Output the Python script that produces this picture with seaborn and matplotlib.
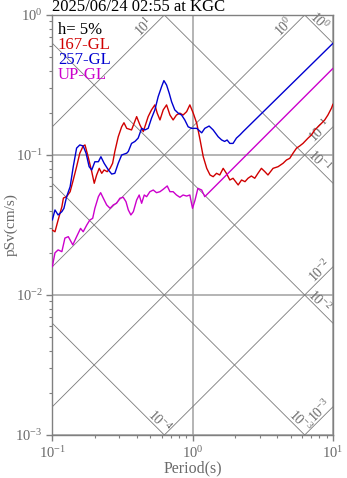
import numpy as np
import pandas as pd
import matplotlib
matplotlib.use("Agg")
import matplotlib.pyplot as plt
import seaborn as sns

# ---- data -------------------------------------------------------------
title = "2025/06/24 02:55 at KGC"
damping_label = "h= 5%"
components = ["167-GL", "257-GL", "UP-GL"]
colors = ["#d00000", "#0000d0", "#cc00cc"]

period_167 = [0.100, 0.1045, 0.110, 0.117, 0.120, 0.1265, 0.134, 0.141, 0.149, 0.157,
              0.166, 0.171, 0.180, 0.191, 0.199, 0.207, 0.216, 0.225, 0.234, 0.246,
              0.258, 0.269, 0.279, 0.295, 0.312, 0.324, 0.339, 0.367, 0.399, 0.421,
              0.445, 0.482, 0.509, 0.538, 0.559, 0.585, 0.617, 0.652, 0.689, 0.726,
              0.767, 0.811, 0.855, 0.906, 0.955, 1.01, 1.07, 1.13, 1.19, 1.26,
              1.33, 1.40, 1.48, 1.56, 1.65, 1.74, 1.84, 1.94, 2.11, 2.23,
              2.36, 2.48, 2.62, 2.77, 2.92, 3.09, 3.27, 3.44, 3.74, 4.06,
              4.41, 4.66, 4.92, 5.19, 5.50, 5.79, 6.11, 6.64, 7.02, 7.41,
              7.82, 8.26, 8.73, 9.20, 9.75, 10.0]
psv_167 = [0.0291, 0.0283, 0.0343, 0.0427, 0.0493, 0.0504, 0.0547, 0.0663, 0.0825, 0.103,
           0.116, 0.118, 0.0972, 0.0760, 0.0628, 0.0720, 0.0803, 0.0740, 0.0782, 0.0760,
           0.0803, 0.0873, 0.106, 0.135, 0.159, 0.170, 0.155, 0.151, 0.188, 0.164,
           0.147, 0.188, 0.210, 0.228, 0.199, 0.178, 0.210, 0.228, 0.193, 0.178,
           0.193, 0.199, 0.193, 0.204, 0.228, 0.199, 0.168, 0.128, 0.0972, 0.0803,
           0.0720, 0.0700, 0.0740, 0.0720, 0.0803, 0.0740, 0.0663, 0.0682, 0.0611, 0.0663,
           0.0645, 0.0682, 0.0708, 0.0682, 0.0740, 0.0803, 0.0760, 0.0720, 0.0803, 0.0825,
           0.0873, 0.0921, 0.0947, 0.103, 0.112, 0.116, 0.121, 0.132, 0.139, 0.151,
           0.159, 0.168, 0.178, 0.193, 0.216, 0.231]

period_257 = [0.100, 0.1045, 0.110, 0.117, 0.121, 0.1265, 0.134, 0.141, 0.149, 0.157,
              0.166, 0.174, 0.183, 0.191, 0.201, 0.213, 0.222, 0.234, 0.251, 0.265,
              0.279, 0.295, 0.312, 0.339, 0.348, 0.367, 0.388, 0.409, 0.433, 0.457,
              0.482, 0.509, 0.538, 0.568, 0.601, 0.624, 0.652, 0.681, 0.708, 0.746,
              0.789, 0.834, 0.879, 0.929, 0.982, 1.07, 1.16, 1.22, 1.31, 1.40,
              1.52, 1.61, 1.69, 1.76, 1.84, 1.94, 2.05, 2.17, 2.29, 10.0]
psv_257 = [0.0343, 0.0405, 0.0373, 0.0394, 0.0416, 0.0504, 0.0594, 0.0825, 0.112, 0.118,
           0.116, 0.103, 0.0825, 0.0782, 0.0895, 0.0895, 0.0972, 0.0873, 0.0782, 0.0731,
           0.0740, 0.0873, 0.100, 0.103, 0.106, 0.121, 0.125, 0.132, 0.155, 0.151,
           0.155, 0.183, 0.210, 0.261, 0.308, 0.340, 0.316, 0.276, 0.240, 0.210,
           0.199, 0.193, 0.178, 0.159, 0.155, 0.155, 0.144, 0.155, 0.161, 0.151,
           0.135, 0.128, 0.125, 0.128, 0.121, 0.121, 0.132, 0.139, 0.147, 0.628]

period_up = [0.100, 0.1045, 0.110, 0.117, 0.123, 0.130, 0.140, 0.149, 0.159, 0.166,
             0.176, 0.185, 0.194, 0.201, 0.213, 0.221, 0.231, 0.244, 0.258, 0.272,
             0.287, 0.303, 0.320, 0.335, 0.348, 0.363, 0.378, 0.399, 0.416, 0.433,
             0.452, 0.470, 0.496, 0.524, 0.553, 0.585, 0.617, 0.659, 0.689, 0.726,
             0.767, 0.811, 0.855, 0.906, 0.955, 0.998, 1.04, 1.09, 1.16, 1.22,
             10.0]
psv_up = [0.0159, 0.0200, 0.0210, 0.0204, 0.0255, 0.0261, 0.0228, 0.0261, 0.0299, 0.0283,
          0.0316, 0.0343, 0.0353, 0.0416, 0.0504, 0.0538, 0.0491, 0.0440, 0.0416, 0.0440,
          0.0452, 0.0491, 0.0499, 0.0464, 0.0405, 0.0373, 0.0394, 0.0477, 0.0518, 0.0452,
          0.0518, 0.0504, 0.0547, 0.0562, 0.0538, 0.0547, 0.0569, 0.0601, 0.0547, 0.0547,
          0.0518, 0.0499, 0.0518, 0.0509, 0.0518, 0.0416, 0.0477, 0.0578, 0.0562, 0.0504,
          0.416]

# tripartite guide levels
accel_levels = [1e1, 1e0, 1e-1, 1e-2, 1e-3]        # pSa, cm/s^2
accel_labels = ["$10^{1}$", "$10^{0}$", "$10^{-1}$", "$10^{-2}$", "$10^{-3}$"]
disp_levels = [1e0, 1e-1, 1e-2, 1e-3, 1e-4]         # Sd, cm
disp_labels = ["$10^{0}$", "$10^{-1}$", "$10^{-2}$", "$10^{-3}$", "$10^{-4}$"]

# ---- style ------------------------------------------------------------
sns.set_theme(style="white")
plt.rcParams["font.family"] = ["Liberation Serif", "DejaVu Serif"]
plt.rcParams["mathtext.default"] = "regular"
plt.rcParams["axes.unicode_minus"] = True

GUIDE = "#7a7a7a"
GRID = "#a0a0a0"
TXT = "#6a6a6a"

W, H = 347, 478
fig = plt.figure(figsize=(W / 100, H / 100), dpi=100)
ax = fig.add_axes([52.3 / W, 1 - 435 / H, 280.7 / W, 420 / H])
ax.set_xscale("log")
ax.set_yscale("log")
T_MIN, T_MAX, V_MIN, V_MAX = 0.1, 10.0, 1e-3, 1.0
ax.set_xlim(T_MIN, T_MAX)
ax.set_ylim(V_MIN, V_MAX)

ax.grid(True, which="major", color=GRID, lw=1.1, zorder=0)
ax.grid(False, which="minor")

T_edge = np.array([T_MIN, T_MAX])
for a, lab in zip(accel_levels, accel_labels):
    ax.plot(T_edge, a * T_edge / (2 * np.pi), color=GUIDE, lw=0.6, zorder=1)
    v_end = a * T_MAX / (2 * np.pi)
    if v_end > V_MAX:
        xy, off = (2 * np.pi * V_MAX / a, V_MAX), (-20, -12)
    else:
        xy, off = (T_MAX, v_end), (-13, -4)
    ax.annotate(lab, xy=xy, xytext=off, textcoords="offset pixels",
                rotation=45, ha="center", va="center", fontsize=10,
                color=TXT, annotation_clip=False, zorder=2)

for d, lab in zip(disp_levels, disp_labels):
    ax.plot(T_edge, 2 * np.pi * d / T_edge, color=GUIDE, lw=0.6, zorder=1)
    v_end = 2 * np.pi * d / T_MAX
    if v_end >= V_MIN:
        xy, off = (T_MAX, v_end), (-14, 22)
    else:
        xy, off = (2 * np.pi * d / V_MIN, V_MIN), (-5, 14)
    ax.annotate(lab, xy=xy, xytext=off, textcoords="offset pixels",
                rotation=-45, ha="center", va="center", fontsize=10,
                color=TXT, annotation_clip=False, zorder=2)

# ---- spectra ----------------------------------------------------------
frames = []
for name, per, sv in zip(components,
                         [period_167, period_257, period_up],
                         [psv_167, psv_257, psv_up]):
    frames.append(pd.DataFrame({"Period": per, "pSv": sv, "comp": name}))
df = pd.concat(frames, ignore_index=True)
sns.lineplot(data=df, x="Period", y="pSv", hue="comp",
             palette=dict(zip(components, colors)), hue_order=components,
             estimator=None, sort=False, lw=1.0, legend=False, ax=ax, zorder=3)

# ---- axes cosmetics ----------------------------------------------------
for s in ax.spines.values():
    s.set_color("#808080")
    s.set_linewidth(1.0)
ax.tick_params(which="both", direction="out", color="#808080", labelcolor=TXT,
               labelsize=10.5, bottom=True, left=True, top=False, right=False)
ax.tick_params(which="major", length=4, width=1.0, pad=3)
ax.tick_params(which="minor", length=2.5, width=0.8)
ax.set_xlabel("Period(s)", color=TXT, fontsize=11.5, labelpad=0)
ax.set_ylabel("pSv(cm/s)", color=TXT, fontsize=11)
ax.yaxis.set_label_coords(-0.122, 0.5)

ax.text(0.0, 1.0095, title, transform=ax.transAxes, fontsize=12,
        color="black", ha="left", va="baseline")
ax.text(0.02, 0.954, damping_label, transform=ax.transAxes, fontsize=12,
        color="black", ha="left", va="baseline", zorder=4)
for i, (name, c) in enumerate(zip(components, colors)):
    ax.text(0.02, 0.919 - i * 0.0355, name, transform=ax.transAxes,
            fontsize=12, color=c, ha="left", va="baseline", zorder=4)

fig.savefig("out.png", dpi=100)
